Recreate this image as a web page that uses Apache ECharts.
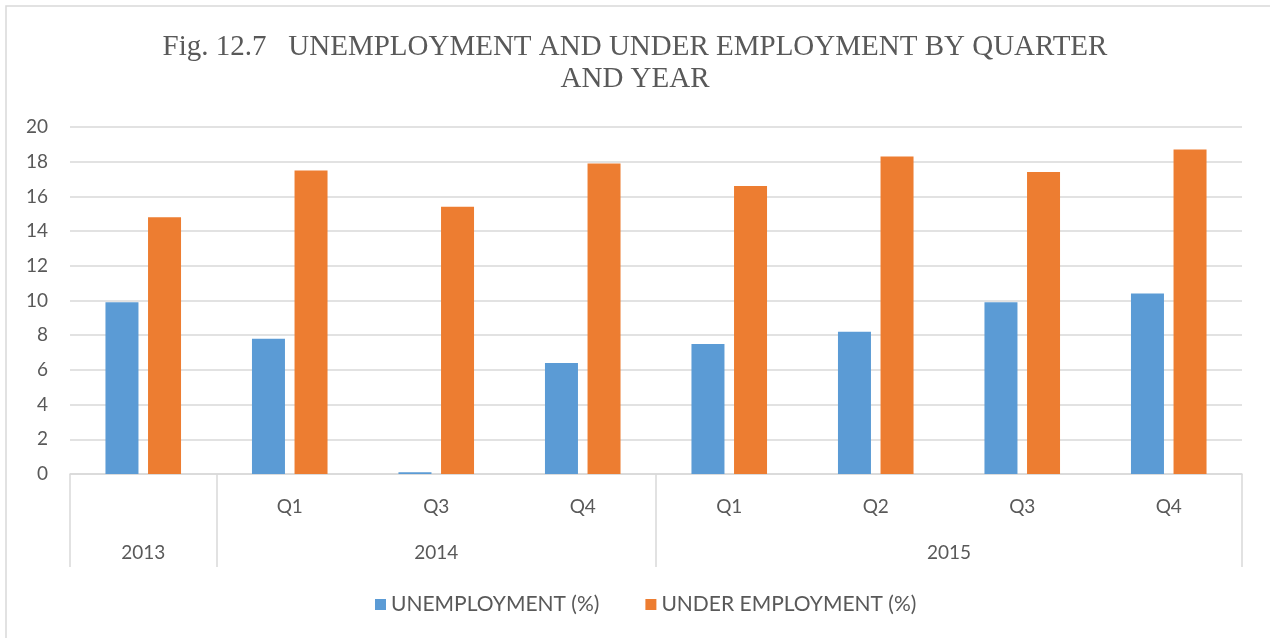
<!DOCTYPE html>
<html>
<head>
<meta charset="utf-8">
<script src="https://cdn.jsdelivr.net/npm/echarts@6/dist/echarts.min.js"></script>
<style>
html,body{margin:0;padding:0;background:#fff;}
#c{width:1270px;height:638px;}
</style>
</head>
<body>
<div id="c"></div>
<script>
var quarters = ['', 'Q1', 'Q3', 'Q4', 'Q1', 'Q2', 'Q3', 'Q4'];
var years = ['2013', '2014', '2015'];
var yearSpans = [1, 3, 4];
var unemployment = [9.9, 7.8, 0.1, 6.4, 7.5, 8.2, 9.9, 10.4];
var underEmployment = [14.8, 17.5, 15.4, 17.9, 16.6, 18.3, 17.4, 18.7];
var yTicks = [0, 2, 4, 6, 8, 10, 12, 14, 16, 18, 20];

// group boundaries and centres for the year row
var bounds = [0];
yearSpans.forEach(function (s) { bounds.push(bounds[bounds.length - 1] + s); });
var centres = [];
for (var i = 0; i < years.length; i++) centres.push((bounds[i] + bounds[i + 1]) / 2);

var textColor = '#595959';
var gridColor = '#d9d9d9';
var font = 'Lato, "Open Sans", sans-serif';

var chart = echarts.init(document.getElementById('c'));
chart.setOption({
  animation: false,
  backgroundColor: '#fff',
  title: {
    text: 'Fig. 12.7   UNEMPLOYMENT AND UNDER EMPLOYMENT BY QUARTER\nAND YEAR',
    left: 'center',
    top: 26,
    textStyle: {
      fontFamily: '"Liberation Serif", "Times New Roman", serif',
      fontWeight: 'normal',
      fontSize: 29,
      lineHeight: 32,
      color: textColor
    }
  },
  graphic: [{
    type: 'rect',
    shape: { x: 6, y: 6, width: 1400, height: 800 },
    style: { fill: 'none', stroke: gridColor, lineWidth: 1.5 },
    silent: true
  }],
  legend: {
    bottom: 18,
    left: 370,
    itemWidth: 11,
    itemHeight: 11,
    itemGap: 46,
    itemTextGap: 4,
    icon: 'rect',
    textStyle: { fontFamily: font, fontSize: 21, color: textColor }
  },
  grid: { left: 70, right: 28, top: 127, bottom: 164, containLabel: false },
  xAxis: [{
    type: 'category',
    data: quarters,
    axisLine: { show: true, lineStyle: { color: gridColor, width: 1.5 } },
    axisTick: { show: false },
    axisLabel: { margin: 23, fontFamily: font, fontSize: 19, color: textColor, interval: 0 }
  }, {
    type: 'value',
    position: 'bottom',
    min: 0,
    max: quarters.length,
    splitLine: { show: false },
    axisLine: { show: false },
    axisTick: {
      show: true,
      customValues: bounds,
      length: 93,
      lineStyle: { color: gridColor, width: 1.5 }
    },
    axisLabel: {
      customValues: centres,
      margin: 69,
      fontFamily: font,
      fontSize: 19,
      color: textColor,
      formatter: function (v) {
        for (var i = 0; i < centres.length; i++) if (Math.abs(centres[i] - v) < 1e-6) return years[i];
        return '';
      }
    }
  }],
  yAxis: {
    type: 'value',
    min: yTicks[0],
    max: yTicks[yTicks.length - 1],
    interval: yTicks[1] - yTicks[0],
    axisLine: { show: false },
    axisTick: { show: false },
    splitLine: { lineStyle: { color: gridColor, width: 1.5 } },
    axisLabel: { margin: 22, fontFamily: font, fontSize: 19, color: textColor }
  },
  series: [{
    name: 'UNEMPLOYMENT (%)',
    type: 'bar',
    data: unemployment,
    barWidth: 33,
    barGap: '29%',
    itemStyle: { color: '#5B9BD5' }
  }, {
    name: 'UNDER EMPLOYMENT (%)',
    type: 'bar',
    data: underEmployment,
    barWidth: 33,
    barGap: '29%',
    itemStyle: { color: '#ED7D31' }
  }]
});
</script>
</body>
</html>
